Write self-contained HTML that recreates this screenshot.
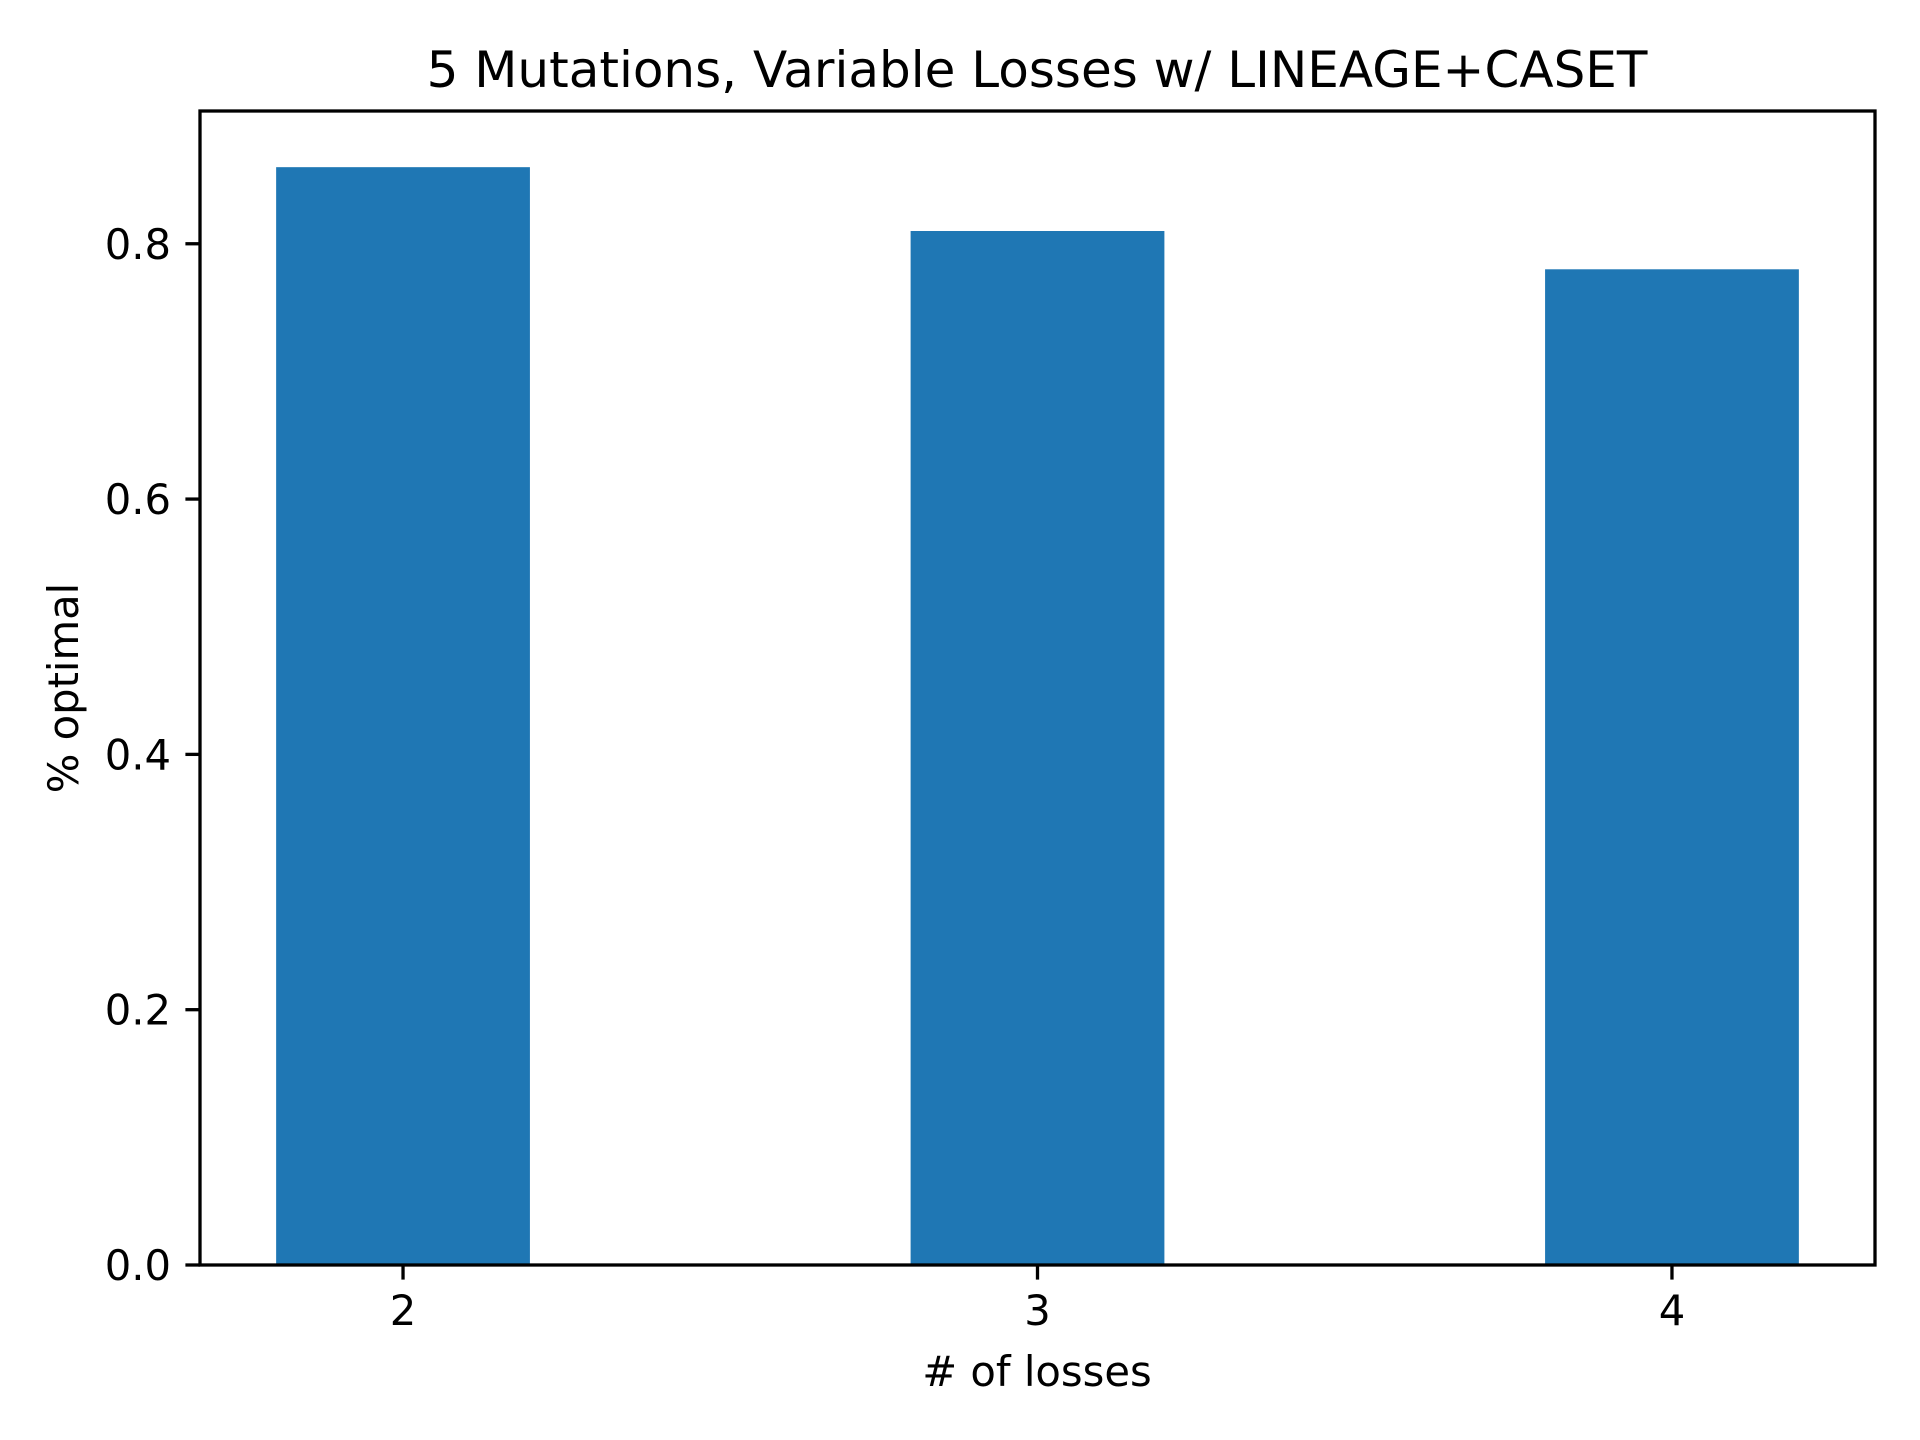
<!DOCTYPE html>
<html><head><meta charset="utf-8"><style>
html,body{margin:0;padding:0;background:#fff;}
svg{display:block;font-family:"DejaVu Sans","Liberation Sans",sans-serif;}
</style></head><body>
<svg id="chart" width="1920" height="1440" viewBox="0 0 1920 1440" xmlns="http://www.w3.org/2000/svg">
<rect width="1920" height="1440" fill="#fff"/>
<text x="1037" y="87" font-size="50" text-anchor="middle">5 Mutations, Variable Losses w/ LINEAGE+CASET</text>
<g id="bars"></g>
<g id="axes"></g>
<text x="1037" y="1386" font-size="41.7" text-anchor="middle"># of losses</text>
<text transform="translate(78,688) rotate(-90)" font-size="41.7" text-anchor="middle">% optimal</text>
</svg>
<script>
const categories = [2, 3, 4];
const values = [0.86, 0.81, 0.78];
const yTicks = [0.0, 0.2, 0.4, 0.6, 0.8];
const yTickLabels = ["0.0", "0.2", "0.4", "0.6", "0.8"];
const xTickLabels = ["2", "3", "4"];

const L = 200, R = 1875, T = 111, B = 1265;
const xMin = 1.68, xMax = 4.32, yMin = 0, yMax = 0.904;
const barW = 0.4;
function xs(v){ return L + (v - xMin) / (xMax - xMin) * (R - L); }
function ys(v){ return B - (v - yMin) / (yMax - yMin) * (B - T); }
const NS = "http://www.w3.org/2000/svg";
const bars = document.getElementById('bars');
const axes = document.getElementById('axes');
function mk(tag, attrs, parent){ const e = document.createElementNS(NS, tag); for (const k in attrs) e.setAttribute(k, attrs[k]); parent.appendChild(e); return e; }

categories.forEach((c, i) => {
  const x0 = xs(c - barW/2), x1 = xs(c + barW/2);
  const r = mk('rect', {x: x0, y: ys(values[i]), width: x1 - x0, height: ys(0) - ys(values[i]), fill: '#1f77b4'}, bars);
  
  
});

const frame = mk('rect', {x: L, y: T, width: R - L, height: B - T, fill: 'none', stroke: '#000', 'stroke-width': 3.3}, axes);



yTicks.forEach((t, i) => {
  const y = ys(t);
  mk('line', {x1: L - 14.6, x2: L, y1: y, y2: y, stroke: '#000', 'stroke-width': 3.3}, axes);
  const tx = mk('text', {x: L - 29, y: y + 15, 'font-size': 41.7, 'text-anchor': 'end'}, axes);
  tx.textContent = yTickLabels[i];
  
  
});
categories.forEach((c, i) => {
  const x = xs(c);
  mk('line', {x1: x, x2: x, y1: B, y2: B + 14.6, stroke: '#000', 'stroke-width': 3.3}, axes);
  const tx = mk('text', {x: x, y: B + 60, 'font-size': 41.7, 'text-anchor': 'middle'}, axes);
  tx.textContent = xTickLabels[i];
  
  
});
</script>
</body></html>
